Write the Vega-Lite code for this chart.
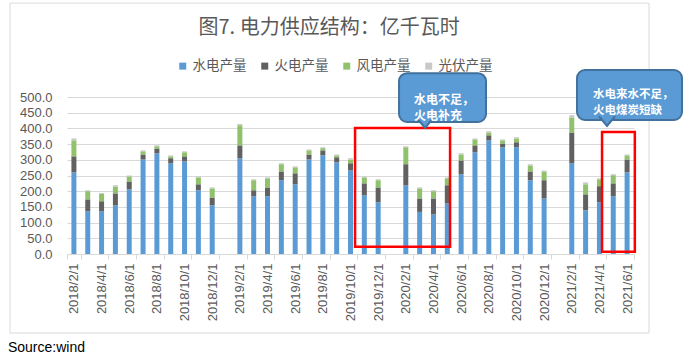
{
  "$schema": "https://vega.github.io/schema/vega-lite/v6.json",
  "width": 567,
  "height": 157,
  "autosize": "none",
  "padding": {"left": 67, "top": 97, "right": 59, "bottom": 107},
  "background": "white",
  "config": {"view": {"stroke": null}},
  "datasets": {
    "power": [
      {"d":"2018/2/1","水电产量":260,"火电产量":51,"风电产量":51,"光伏产量":6},
      {"d":"2018/3/1","水电产量":136,"火电产量":38,"风电产量":26,"光伏产量":3},
      {"d":"2018/4/1","水电产量":136,"火电产量":32,"风电产量":23,"光伏产量":3},
      {"d":"2018/5/1","水电产量":155,"火电产量":38,"风电产量":22,"光伏产量":4},
      {"d":"2018/6/1","水电产量":206,"火电产量":25,"风电产量":16,"光伏产量":3},
      {"d":"2018/7/1","水电产量":301,"火电产量":16,"风电产量":10,"光伏产量":3},
      {"d":"2018/8/1","水电产量":321,"火电产量":15,"风电产量":7,"光伏产量":3},
      {"d":"2018/9/1","水电产量":289,"火电产量":16,"风电产量":6,"光伏产量":3},
      {"d":"2018/10/1","水电产量":295,"火电产量":16,"风电产量":13,"光伏产量":3},
      {"d":"2018/11/1","水电产量":203,"火电产量":19,"风电产量":22,"光伏产量":3},
      {"d":"2018/12/1","水电产量":155,"火电产量":25,"风电产量":29,"光伏产量":3},
      {"d":"2019/2/1","水电产量":305,"火电产量":41,"风电产量":64,"光伏产量":4},
      {"d":"2019/3/1","水电产量":184,"火电产量":19,"风电产量":32,"光伏产量":3},
      {"d":"2019/4/1","水电产量":184,"火电产量":28,"风电产量":29,"光伏产量":3},
      {"d":"2019/5/1","水电产量":235,"火电产量":28,"风电产量":23,"光伏产量":3},
      {"d":"2019/6/1","水电产量":222,"火电产量":35,"风电产量":19,"光伏产量":3},
      {"d":"2019/7/1","水电产量":301,"火电产量":16,"风电产量":13,"光伏产量":3},
      {"d":"2019/8/1","水电产量":314,"火电产量":16,"风电产量":7,"光伏产量":3},
      {"d":"2019/9/1","水电产量":292,"火电产量":16,"风电产量":6,"光伏产量":3},
      {"d":"2019/10/1","水电产量":266,"火电产量":23,"风电产量":12,"光伏产量":4},
      {"d":"2019/11/1","水电产量":187,"火电产量":38,"风电产量":19,"光伏产量":3},
      {"d":"2019/12/1","水电产量":165,"火电产量":47,"风电产量":23,"光伏产量":3},
      {"d":"2020/2/1","水电产量":219,"火电产量":67,"风电产量":54,"光伏产量":3},
      {"d":"2020/3/1","水电产量":134,"火电产量":43,"风电产量":32,"光伏产量":3},
      {"d":"2020/4/1","水电产量":126,"火电产量":51,"风电产量":23,"光伏产量":3},
      {"d":"2020/5/1","水电产量":161,"火电产量":58,"风电产量":22,"光伏产量":3},
      {"d":"2020/6/1","水电产量":254,"火电产量":44,"风电产量":19,"光伏产量":4},
      {"d":"2020/7/1","水电产量":324,"火电产量":22,"风电产量":19,"光伏产量":3},
      {"d":"2020/8/1","水电产量":362,"火电产量":16,"风电产量":9,"光伏产量":4},
      {"d":"2020/9/1","水电产量":340,"火电产量":12,"风电产量":10,"光伏产量":3},
      {"d":"2020/10/1","水电产量":340,"火电产量":16,"风电产量":12,"光伏产量":4},
      {"d":"2020/11/1","水电产量":235,"火电产量":28,"风电产量":19,"光伏产量":4},
      {"d":"2020/12/1","水电产量":177,"火电产量":58,"风电产量":28,"光伏产量":3},
      {"d":"2021/2/1","水电产量":289,"火电产量":98,"风电产量":48,"光伏产量":7},
      {"d":"2021/3/1","水电产量":139,"火电产量":51,"风电产量":32,"光伏产量":6},
      {"d":"2021/4/1","水电产量":165,"火电产量":51,"风电产量":22,"光伏产量":3},
      {"d":"2021/5/1","水电产量":184,"火电产量":41,"风电产量":26,"光伏产量":3},
      {"d":"2021/6/1","水电产量":260,"火电产量":41,"风电产量":13,"光伏产量":3}
    ]
  },
  "layer": [
    {
      "data": {"name": "power"},
      "transform": [
        {"fold": ["水电产量","火电产量","风电产量","光伏产量"], "as": ["type","value"]},
        {"calculate": "indexof(['水电产量','火电产量','风电产量','光伏产量'], datum.type)", "as": "ord"}
      ],
      "mark": {"type": "bar", "size": 5},
      "encoding": {
        "x": {
          "field": "d", "type": "nominal",
          "scale": {
            "domain": ["2018/2/1","2018/3/1","2018/4/1","2018/5/1","2018/6/1","2018/7/1","2018/8/1","2018/9/1","2018/10/1","2018/11/1","2018/12/1",
                       "2019/1/1","2019/2/1","2019/3/1","2019/4/1","2019/5/1","2019/6/1","2019/7/1","2019/8/1","2019/9/1","2019/10/1","2019/11/1","2019/12/1",
                       "2020/1/1","2020/2/1","2020/3/1","2020/4/1","2020/5/1","2020/6/1","2020/7/1","2020/8/1","2020/9/1","2020/10/1","2020/11/1","2020/12/1",
                       "2021/1/1","2021/2/1","2021/3/1","2021/4/1","2021/5/1","2021/6/1"],
            "paddingInner": 0, "paddingOuter": 0
          },
          "axis": {
            "title": null,
            "values": ["2018/2/1","2018/4/1","2018/6/1","2018/8/1","2018/10/1","2018/12/1","2019/2/1","2019/4/1","2019/6/1","2019/8/1","2019/10/1","2019/12/1","2020/2/1","2020/4/1","2020/6/1","2020/8/1","2020/10/1","2020/12/1","2021/2/1","2021/4/1","2021/6/1"],
            "labelAngle": -90,
            "labelPadding": 4,
            "labelFont": "Liberation Sans",
            "labelFontSize": 13,
            "labelColor": "#595959",
            "domainColor": "#D9D9D9",
            "tickColor": "#D9D9D9",
            "tickSize": 5,
            "tickBand": "extent",
            "grid": false
          }
        },
        "y": {
          "field": "value", "type": "quantitative", "stack": "zero",
          "scale": {"domain": [0, 500], "nice": false},
          "axis": {
            "title": null,
            "values": [0,50,100,150,200,250,300,350,400,450,500],
            "format": ".1f",
            "labelFont": "Liberation Sans",
            "labelFontSize": 13,
            "labelColor": "#595959",
            "labelPadding": 15,
            "domain": false,
            "ticks": false,
            "grid": true,
            "gridColor": "#D9D9D9"
          }
        },
        "color": {
          "field": "type", "type": "nominal",
          "scale": {
            "domain": ["水电产量","火电产量","风电产量","光伏产量"],
            "range": ["#5B9BD5","#616161","#8FC26A","#C9C9C9"]
          },
          "legend": {
            "title": null,
            "orient": "none",
            "direction": "horizontal",
            "legendX": 109,
            "legendY": -38,
            "padding": 0,
            "symbolType": "square",
            "symbolSize": 49,
            "symbolStrokeWidth": 0,
            "labelFont": "Noto Sans CJK SC",
            "labelFontSize": 13.5,
            "labelColor": "#595959",
            "labelOffset": 3,
            "columnPadding": 11
          }
        },
        "order": {"field": "ord", "type": "quantitative"}
      }
    },
    {
      "data": {"values": [{}]},
      "layer": [
        {
          "mark": {"type": "rect", "fill": null, "stroke": "#D9D9D9", "strokeWidth": 1, "clip": false},
          "encoding": {
            "x": {"datum": -4.12, "type": "quantitative", "scale": {"domain": [0, 41], "nice": false, "zero": false}, "axis": null},
            "x2": {"datum": 42.09},
            "y": {"datum": 799, "type": "quantitative", "scale": {"domain": [0, 500], "nice": false}, "axis": null},
            "y2": {"datum": -251.6}
          }
        },
        {
          "mark": {"type": "rect", "fill": null, "stroke": "#FF0000", "strokeWidth": 2.5, "clip": false},
          "encoding": {
            "x": {"datum": 20.83, "type": "quantitative", "scale": {"domain": [0, 41], "nice": false, "zero": false}, "axis": null},
            "x2": {"datum": 27.7},
            "y": {"datum": 401, "type": "quantitative", "scale": {"domain": [0, 500], "nice": false}, "axis": null},
            "y2": {"datum": 23}
          }
        },
        {
          "mark": {"type": "rect", "fill": null, "stroke": "#FF0000", "strokeWidth": 2.5, "clip": false},
          "encoding": {
            "x": {"datum": 38.69, "type": "quantitative", "scale": {"domain": [0, 41], "nice": false, "zero": false}, "axis": null},
            "x2": {"datum": 41.06},
            "y": {"datum": 388.5, "type": "quantitative", "scale": {"domain": [0, 500], "nice": false}, "axis": null},
            "y2": {"datum": 7}
          }
        },
        {
          "mark": {"type": "rect", "fill": "#5B9BD5", "stroke": "#41719C", "strokeWidth": 2, "cornerRadius": 8, "clip": false},
          "encoding": {
            "x": {"datum": 24.01, "type": "quantitative", "scale": {"domain": [0, 41], "nice": false, "zero": false}, "axis": null},
            "x2": {"datum": 30.3},
            "y": {"datum": 576, "type": "quantitative", "scale": {"domain": [0, 500], "nice": false}, "axis": null},
            "y2": {"datum": 420.4}
          }
        },
        {
          "mark": {"type": "rect", "fill": "#5B9BD5", "stroke": "#41719C", "strokeWidth": 2, "cornerRadius": 8, "clip": false},
          "encoding": {
            "x": {"datum": 36.88, "type": "quantitative", "scale": {"domain": [0, 41], "nice": false, "zero": false}, "axis": null},
            "x2": {"datum": 44.47},
            "y": {"datum": 586, "type": "quantitative", "scale": {"domain": [0, 500], "nice": false}, "axis": null},
            "y2": {"datum": 426.8}
          }
        },
        {
          "mark": {"type": "point", "shape": "M-1,-0.45L0,0.75L1,-0.45", "size": 256, "filled": true, "fill": "#5B9BD5", "stroke": "#41719C", "strokeWidth": 2, "opacity": 1, "clip": false},
          "encoding": {
            "x": {"datum": 25.89, "type": "quantitative", "scale": {"domain": [0, 41], "nice": false, "zero": false}, "axis": null},
            "y": {"datum": 420.4, "type": "quantitative", "scale": {"domain": [0, 500], "nice": false}, "axis": null}
          }
        },
        {
          "mark": {"type": "point", "shape": "M-1,-0.45L0,0.75L1,-0.45", "size": 256, "filled": true, "fill": "#5B9BD5", "stroke": "#41719C", "strokeWidth": 2, "opacity": 1, "clip": false},
          "encoding": {
            "x": {"datum": 39.05, "type": "quantitative", "scale": {"domain": [0, 41], "nice": false, "zero": false}, "axis": null},
            "y": {"datum": 426.8, "type": "quantitative", "scale": {"domain": [0, 500], "nice": false}, "axis": null}
          }
        },
        {
          "mark": {"type": "text", "align": "left", "baseline": "middle", "font": "Noto Sans CJK SC", "fontSize": 12, "fontWeight": "bold", "color": "white", "lineHeight": 16, "clip": false},
          "encoding": {
            "x": {"datum": 25.09, "type": "quantitative", "scale": {"domain": [0, 41], "nice": false, "zero": false}, "axis": null},
            "y": {"datum": 492, "type": "quantitative", "scale": {"domain": [0, 500], "nice": false}, "axis": null},
            "text": {"value": ["水电不足，", "火电补充"]}
          }
        },
        {
          "mark": {"type": "text", "align": "left", "baseline": "middle", "font": "Noto Sans CJK SC", "fontSize": 11.5, "fontWeight": "bold", "color": "white", "lineHeight": 16, "clip": false},
          "encoding": {
            "x": {"datum": 38.04, "type": "quantitative", "scale": {"domain": [0, 41], "nice": false, "zero": false}, "axis": null},
            "y": {"datum": 504.8, "type": "quantitative", "scale": {"domain": [0, 500], "nice": false}, "axis": null},
            "text": {"value": ["水电来水不足，", "火电煤炭短缺"]}
          }
        },
        {
          "mark": {"type": "text", "align": "center", "baseline": "middle", "font": "Noto Sans CJK SC", "fontSize": 20, "color": "#595959", "clip": false},
          "encoding": {
            "x": {"datum": 18.95, "type": "quantitative", "scale": {"domain": [0, 41], "nice": false, "zero": false}, "axis": null},
            "y": {"datum": 719.7, "type": "quantitative", "scale": {"domain": [0, 500], "nice": false}, "axis": null},
            "text": {"value": "图7. 电力供应结构：亿千瓦时"}
          }
        },
        {
          "mark": {"type": "text", "align": "left", "baseline": "middle", "font": "Liberation Sans", "fontSize": 14, "color": "#000000", "clip": false},
          "encoding": {
            "x": {"datum": -4.27, "type": "quantitative", "scale": {"domain": [0, 41], "nice": false, "zero": false}, "axis": null},
            "y": {"datum": -299.4, "type": "quantitative", "scale": {"domain": [0, 500], "nice": false}, "axis": null},
            "text": {"value": "Source:wind"}
          }
        }
      ]
    }
  ],
  "resolve": {"scale": {"x": "independent", "y": "independent"}}
}
